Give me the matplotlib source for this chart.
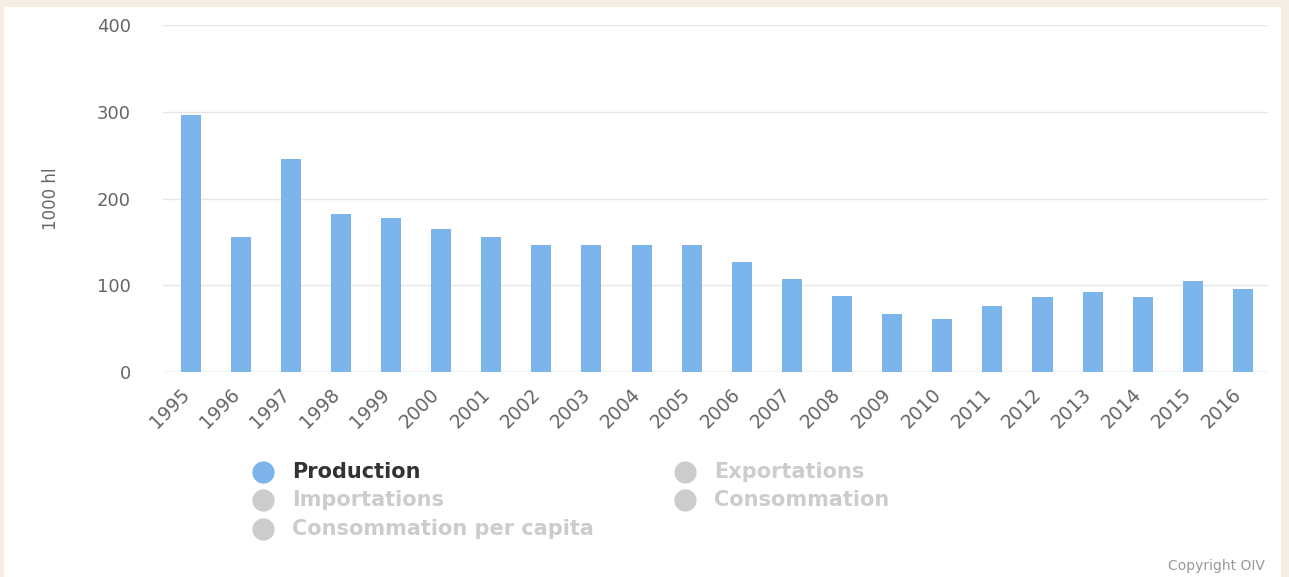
import matplotlib.pyplot as plt
from matplotlib.patches import Rectangle

# production in 1000 hl, per year
years = [str(y) for y in range(1995, 2017)]
production = [296, 156, 245, 182, 178, 165, 156, 146, 146, 146, 146,
              127, 107, 88, 67, 61, 76, 86, 92, 86, 105, 96]

legend_names = ['Production', 'Importations', 'Consommation per capita',
                'Exportations', 'Consommation']
legend_active = [True, False, False, False, False]

W, H = 1289, 577
fig = plt.figure(figsize=(W / 100, H / 100), dpi=100)
fig.patch.set_facecolor('#f5eee4')
# white card behind everything
fig.patches.append(Rectangle((4 / W, 0), (1281 - 4) / W, (H - 7) / H,
                             transform=fig.transFigure, facecolor='white',
                             edgecolor='none', zorder=-10))

ax = fig.add_axes([163 / W, 1 - 372 / H, (1268 - 163) / W, (372 - 25) / H])
ax.set_facecolor('none')
x = list(range(len(years)))
ax.bar(x, production, width=0.4, color='#7cb5ec', zorder=3)

ax.set_ylim(0, 400)
ax.set_yticks([0, 100, 200, 300, 400])
ax.set_xlim(-0.55, 21.5)
# rotated labels end a bit left of the bar centre (ticks are invisible)
ax.set_xticks([i - 0.22 for i in x])
ax.set_xticklabels(years, rotation=45, ha='right', rotation_mode='anchor',
                   fontsize=13.5, color='#666666')
ax.tick_params(axis='y', labelsize=13, labelcolor='#666666', length=0, pad=23)
ax.tick_params(axis='x', length=0, pad=9)
ax.grid(axis='y', color='#e6e6e6', linewidth=1, zorder=0)
for s in ax.spines.values():
    s.set_visible(False)
ax.axhline(0, color='#ccd6eb', linewidth=1, zorder=2)
ax.set_ylabel('1000 hl', fontsize=12, color='#666666', labelpad=27)

# legend drawn by hand
pos = [(263, 472), (263, 500), (263, 529), (685, 472), (685, 500)]
for name, on, (px, py) in zip(legend_names, legend_active, pos):
    c = '#7cb5ec' if on else '#cccccc'
    fig.add_artist(plt.Line2D([px / W], [1 - py / H], marker='o', markersize=15,
                              color=c, transform=fig.transFigure))
    fig.text((px + 29) / W, 1 - py / H, name, fontsize=15, fontweight='bold',
             color='#333333' if on else '#cccccc', va='center', ha='left')

fig.text(1265 / W, 1 - 566 / H, 'Copyright OIV', fontsize=10, color='#999999',
         ha='right', va='center')

fig.savefig('out.png', dpi=100, facecolor=fig.get_facecolor())
